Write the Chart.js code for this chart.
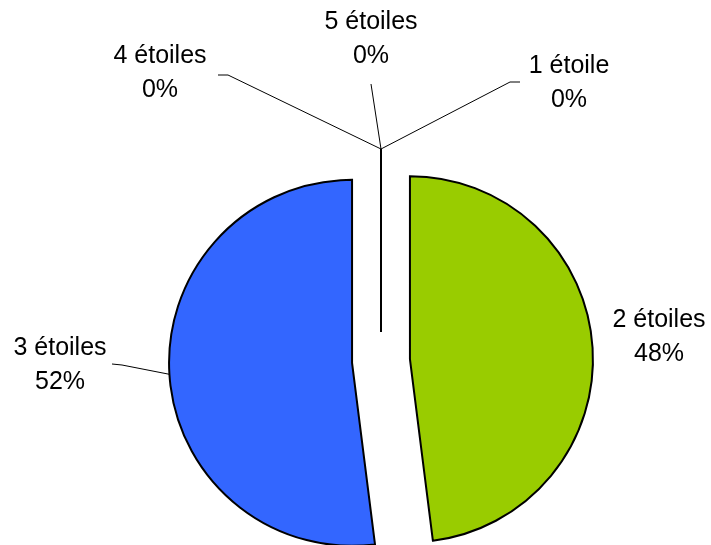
<!DOCTYPE html>
<html>
<head>
<meta charset="utf-8">
<script src="https://cdn.jsdelivr.net/npm/chart.js@4.4.1/dist/chart.umd.min.js"></script>
<style>
  html, body { margin: 0; padding: 0; background: #fff; }
</style>
</head>
<body>
<canvas id="pieChart" width="711" height="545"></canvas>
<script>
// --- data ---
const categories = ['1 étoile', '2 étoiles', '3 étoiles', '4 étoiles', '5 étoiles'];
const shares = [0, 48, 52, 0, 0];
const sliceColors = ['#9999FF', '#99CC00', '#3366FF', '#FFFF99', '#CC99FF'];

// --- layout ---
const EXPLODE = 29;          // distance each slice is pulled out from the centre
const PIE_RADIUS = 183;
const FONT = '25px "Liberation Sans", Arial, sans-serif';
const LINE_GAP = 34;

// label centre (first line) and leader path (elbow, end) for each slice
const labelLayout = [
  { x: 569, y: 66,  leader: [[510, 82], [520, 82]] },
  { x: 659, y: 320, leader: null },
  { x: 60,  y: 348, leader: [[122, 365], [112, 364]] },
  { x: 160, y: 56,  leader: [[228, 75], [218, 75]] },
  { x: 371, y: 22,  leader: [[371, 84]] }
];

function explodeVector(el) {
  const mid = (el.startAngle + el.endAngle) / 2;
  return { dx: Math.cos(mid) * EXPLODE, dy: Math.sin(mid) * EXPLODE, mid: mid };
}

// draws the slices pulled apart; zero-size slices become a single radius line
const explodedPie = {
  id: 'explodedPie',
  beforeDatasetsDraw(chart) {
    const ctx = chart.ctx;
    const meta = chart.getDatasetMeta(0);
    meta.data.forEach((el) => {
      const v = explodeVector(el);
      ctx.save();
      ctx.translate(v.dx, v.dy);
      if (el.circumference === 0) {
        ctx.beginPath();
        ctx.moveTo(el.x, el.y);
        ctx.lineTo(el.x + Math.cos(el.startAngle) * el.outerRadius,
                   el.y + Math.sin(el.startAngle) * el.outerRadius);
        ctx.lineWidth = 2;
        ctx.strokeStyle = '#000';
        ctx.stroke();
      } else {
        el.draw(ctx);
      }
      ctx.restore();
    });
    return false;
  },
  afterDraw(chart) {
    const ctx = chart.ctx;
    const meta = chart.getDatasetMeta(0);
    const total = shares.reduce((a, b) => a + b, 0);
    ctx.save();
    meta.data.forEach((el, i) => {
      const spot = labelLayout[i];
      const v = explodeVector(el);
      if (spot.leader) {
        const ax = el.x + v.dx + Math.cos(v.mid) * el.outerRadius;
        const ay = el.y + v.dy + Math.sin(v.mid) * el.outerRadius;
        ctx.beginPath();
        ctx.moveTo(ax, ay);
        spot.leader.forEach(p => ctx.lineTo(p[0], p[1]));
        ctx.lineWidth = 1;
        ctx.strokeStyle = '#000';
        ctx.stroke();
      }
      const pct = Math.round(shares[i] / total * 100) + '%';
      ctx.fillStyle = '#000';
      ctx.font = FONT;
      ctx.textAlign = 'center';
      ctx.textBaseline = 'middle';
      ctx.fillText(categories[i], spot.x, spot.y);
      ctx.fillText(pct, spot.x, spot.y + LINE_GAP);
    });
    ctx.restore();
  }
};

new Chart(document.getElementById('pieChart'), {
  type: 'pie',
  data: {
    labels: categories,
    datasets: [{
      data: shares,
      backgroundColor: sliceColors,
      borderColor: '#000',
      borderWidth: 2,
      borderJoinStyle: 'miter'
    }]
  },
  options: {
    responsive: false,
    animation: false,
    devicePixelRatio: 1,
    radius: PIE_RADIUS,
    layout: { padding: { left: 51, right: 0, top: 177, bottom: 0 } },
    plugins: {
      legend: { display: false },
      tooltip: { enabled: false }
    }
  },
  plugins: [explodedPie]
});
</script>
</body>
</html>
